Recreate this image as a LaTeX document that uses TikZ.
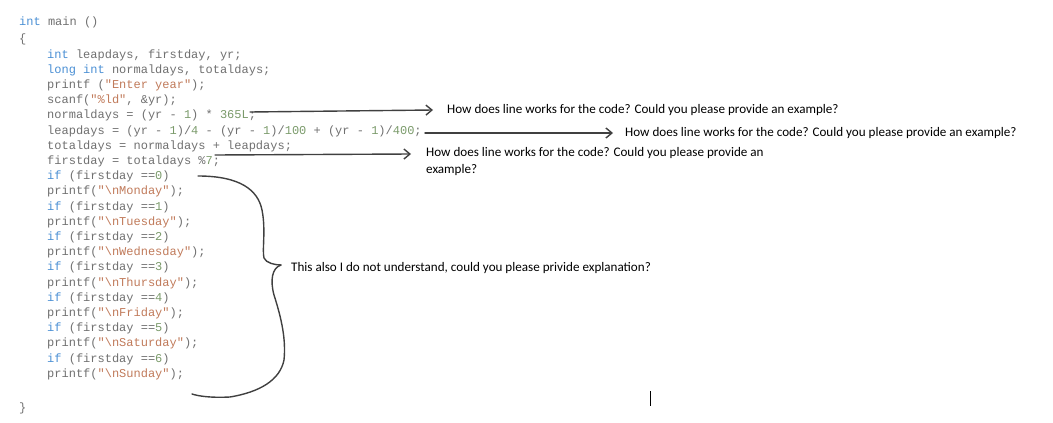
\documentclass[tikz,border=0pt]{standalone}
\usepackage{fontspec}
\usetikzlibrary{arrows.meta}
\setmainfont{Carlito}
\setmonofont{Liberation Mono}
\definecolor{cg}{HTML}{707070}
\definecolor{kw}{HTML}{4A8FD4}
\definecolor{st}{HTML}{C07A5A}
\definecolor{nu}{HTML}{7A9A6A}
\definecolor{pen}{HTML}{404040}
\newcommand{\K}[1]{\textcolor{kw}{#1}}
\newcommand{\Sq}[1]{\textcolor{st}{#1}}
\newcommand{\N}[1]{\textcolor{nu}{#1}}
\begin{document}
\begin{tikzpicture}[x=1pt,y=-1pt,
  code/.style={anchor=west,inner sep=0pt,font=\ttfamily\fontsize{12}{13}\selectfont,text=cg},
  note/.style={anchor=west,inner sep=0pt,font=\fontsize{13.1}{17}\selectfont,align=left},
  hand/.style={draw=pen,line width=1.4pt,line cap=round},
  arr/.style={hand,-{Straight Barb[length=6pt,width=10pt,line width=1.4pt]}}]
\useasboundingbox (0,0) rectangle (1053,423);
\node[code] (l0) at (19,22) {\K{int} main ()};
\node[code] (l1) at (19,39) {\{};
\foreach \t [count=\i from 0] in {
 {\K{int} leapdays, firstday, yr;},
 {\K{long} \K{int} normaldays, totaldays;},
 {printf (\Sq{"Enter year"});},
 {scanf(\Sq{"\%ld"}, \&yr);},
 {normaldays = (yr - \N{1}) * \N{365L};},
 {leapdays = (yr - \N{1})/\N{4} - (yr - \N{1})/\N{100} + (yr - \N{1})/\N{400};},
 {totaldays = normaldays + leapdays;},
 {firstday = totaldays \%\N{7};},
 {\K{if} (firstday ==\N{0})},
 {printf(\Sq{"\textbackslash nMonday"});},
 {\K{if} (firstday ==\N{1})},
 {printf(\Sq{"\textbackslash nTuesday"});},
 {\K{if} (firstday ==\N{2})},
 {printf(\Sq{"\textbackslash nWednesday"});},
 {\K{if} (firstday ==\N{3})},
 {printf(\Sq{"\textbackslash nThursday"});},
 {\K{if} (firstday ==\N{4})},
 {printf(\Sq{"\textbackslash nFriday"});},
 {\K{if} (firstday ==\N{5})},
 {printf(\Sq{"\textbackslash nSaturday"});},
 {\K{if} (firstday ==\N{6})},
 {printf(\Sq{"\textbackslash nSunday"});}}
 {\node[code] (c\i) at (47,{55+\i*15.2}) {\t};}
\node[code] (lend) at (19,408) {\}};

\node[note] (q1) at (447,110) {How does line works for the code? Could you please provide an example?};
\node[note] (q2) at (625,133) {How does line works for the code? Could you please provide an example?};
\node[note,anchor=north west] (q3) at (426,147) {How does line works for the code? Could you please provide an\\example?};
\node[note] (q4) at (291,268) {This also I do not understand, could you please privide explanation?};

\coordinate (a1) at (250,112);
\coordinate (a2) at (425,133);
\coordinate (a3) at (215,155);
\draw[arr] (a1) -- ([xshift=-14pt]q1.west);
\draw[arr] (a2) -- ([xshift=-12pt]q2.west);
\draw[arr] (a3) -- (411,154);

\coordinate (b0) at (198,176);
\coordinate (bt) at (281,265);
\coordinate (b9) at (192,394);
\draw[hand] (b0) .. controls (240,176) and (258,190) .. (262,210)
  .. controls (266,230) and (262,250) .. (264,258)
  .. controls (266,263) and (275,265) .. (bt);
\draw[hand] (bt) .. controls (272,268) and (270,280) .. (274,295)
  .. controls (282,320) and (286,340) .. (284,360)
  .. controls (280,380) and (260,392) .. (230,397)
  .. controls (210,398) and (198,396) .. (b9);
\draw[black,line width=0.8pt] (650,391) -- (650,406);
\end{tikzpicture}
\end{document}
